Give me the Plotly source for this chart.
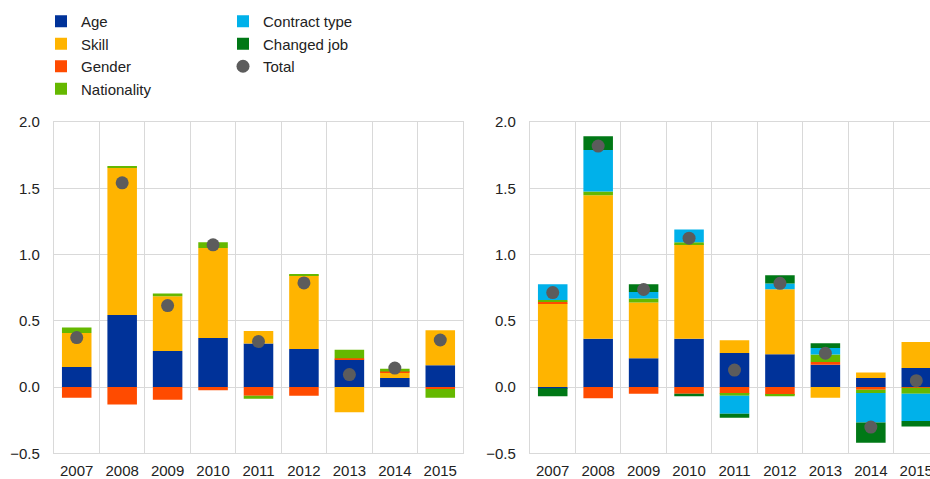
import plotly.graph_objects as go

years = ["2007", "2008", "2009", "2010", "2011", "2012", "2013", "2014", "2015"]

# Left panel
left_age = [0.151, 0.544, 0.272, 0.370, 0.328, 0.287, 0.207, 0.068, 0.164]
left_skill = [0.257, 1.110, 0.413, 0.680, 0.095, 0.557, -0.191, 0.040, 0.264]
left_gender = [-0.080, -0.131, -0.095, -0.025, -0.065, -0.065, 0.010, 0.010, -0.015]
left_nationality = [0.041, 0.011, 0.020, 0.043, -0.023, 0.005, 0.065, 0.020, -0.065]
left_total = [0.373, 1.541, 0.615, 1.073, 0.343, 0.786, 0.094, 0.143, 0.355]

# Right panel
right_age = [-0.010, 0.365, 0.217, 0.365, 0.257, 0.247, 0.169, 0.068, 0.143]
right_skill = [0.630, 1.083, 0.420, 0.713, 0.096, 0.491, -0.080, 0.041, 0.197]
right_gender = [0.013, -0.085, -0.050, -0.050, -0.050, -0.060, 0.020, -0.020, -0.005]
right_nationality = [0.013, 0.028, 0.031, 0.015, -0.015, -0.010, 0.056, -0.025, -0.045]
right_contract = [0.120, 0.312, 0.050, 0.096, -0.136, 0.043, 0.050, -0.222, -0.207]
right_changed = [-0.060, 0.105, 0.058, -0.020, -0.030, 0.063, 0.035, -0.153, -0.040]
right_total = [0.713, 1.818, 0.736, 1.123, 0.128, 0.783, 0.255, -0.302, 0.048]

y_ticks = [-0.5, 0.0, 0.5, 1.0, 1.5, 2.0]

C_AGE = "#003299"
C_SKILL = "#FFB400"
C_GENDER = "#FF4B00"
C_NAT = "#65B800"
C_CONTRACT = "#00B1EA"
C_CHANGED = "#007816"
C_TOTAL = "#5C5C5C"
GRID = "#d9d9d9"
FONT = "Arial, Liberation Sans, sans-serif"

fig = go.Figure()

def add_bar(name, vals, color, xa, ya, showlegend, legend, rank):
    fig.add_trace(go.Bar(
        x=years, y=vals, name=name, marker=dict(color=color, line=dict(width=0)),
        xaxis=xa, yaxis=ya, showlegend=showlegend, legend=legend,
        legendrank=rank, legendgroup=name,
    ))

add_bar("Age", left_age, C_AGE, "x", "y", True, "legend", 1)
add_bar("Skill", left_skill, C_SKILL, "x", "y", True, "legend", 2)
add_bar("Gender", left_gender, C_GENDER, "x", "y", True, "legend", 3)
add_bar("Nationality", left_nationality, C_NAT, "x", "y", True, "legend", 4)

add_bar("Age", right_age, C_AGE, "x2", "y2", False, "legend", 1)
add_bar("Skill", right_skill, C_SKILL, "x2", "y2", False, "legend", 2)
add_bar("Gender", right_gender, C_GENDER, "x2", "y2", False, "legend", 3)
add_bar("Nationality", right_nationality, C_NAT, "x2", "y2", False, "legend", 4)
add_bar("Contract type", right_contract, C_CONTRACT, "x2", "y2", True, "legend2", 5)
add_bar("Changed job", right_changed, C_CHANGED, "x2", "y2", True, "legend2", 6)

fig.add_trace(go.Scatter(
    x=years, y=left_total, name="Total", mode="markers",
    marker=dict(color=C_TOTAL, size=13), xaxis="x", yaxis="y",
    showlegend=True, legend="legend2", legendrank=7, legendgroup="Total",
))
fig.add_trace(go.Scatter(
    x=years, y=right_total, name="Total", mode="markers",
    marker=dict(color=C_TOTAL, size=13), xaxis="x2", yaxis="y2",
    showlegend=False, legend="legend2", legendrank=7, legendgroup="Total",
))

W, H = 930, 479
left_x0, left_x1 = 54, 463
right_x0 = 530
cat_w = (left_x1 - left_x0) / len(years)
right_end = -0.5 + (W - right_x0) / cat_w
y_top, y_bot = 122, 453.3

xcommon = dict(
    type="category", tickson="boundaries", showgrid=True, gridcolor=GRID, gridwidth=1.3,
    showline=True, linecolor=GRID, linewidth=1.3, mirror=True, ticks="",
    tickfont=dict(family=FONT, size=15, color="#222222"), ticklabelstandoff=4,
    fixedrange=True, automargin=False,
)
ycommon = dict(
    range=[-0.5, 2.0], tickvals=y_ticks, tickformat=".1f", showgrid=True,
    gridcolor=GRID, gridwidth=1.3, zeroline=True, zerolinecolor=GRID, zerolinewidth=1.3,
    showline=True, linecolor=GRID, linewidth=1.3, mirror=True, ticks="",
    tickfont=dict(family=FONT, size=15, color="#222222"), ticklabelstandoff=10,
    automargin=False, fixedrange=True,
)

fig.update_layout(
    width=W, height=H,
    margin=dict(l=0, r=0, t=0, b=0, autoexpand=False),
    paper_bgcolor="white", plot_bgcolor="white",
    barmode="relative", bargap=0.35,
    font=dict(family=FONT, size=15, color="#222222"),
    xaxis=dict(domain=[left_x0 / W, left_x1 / W], range=[-0.5, len(years) - 0.5],
               anchor="y", **xcommon),
    yaxis=dict(domain=[1 - y_bot / H, 1 - y_top / H], anchor="x", **ycommon),
    xaxis2=dict(domain=[right_x0 / W, 1.0], range=[-0.5, right_end],
                anchor="y2", **xcommon),
    yaxis2=dict(domain=[1 - y_bot / H, 1 - y_top / H], anchor="x2", **ycommon),
    legend=dict(x=41 / W, y=1 - 5 / H, xanchor="left", yanchor="top",
                orientation="v", bgcolor="rgba(0,0,0,0)",
                font=dict(family=FONT, size=15, color="#222222"),
                traceorder="normal", itemclick=False, itemdoubleclick=False),
    legend2=dict(x=223 / W, y=1 - 5 / H, xanchor="left", yanchor="top",
                 orientation="v", bgcolor="rgba(0,0,0,0)",
                 font=dict(family=FONT, size=15, color="#222222"),
                 traceorder="normal", itemclick=False, itemdoubleclick=False),
    hovermode=False,
)

fig.write_html(
    "out.html",
    config={"displayModeBar": False},
    post_script="document.body.style.margin='0px';document.body.style.overflow='hidden';",
)
